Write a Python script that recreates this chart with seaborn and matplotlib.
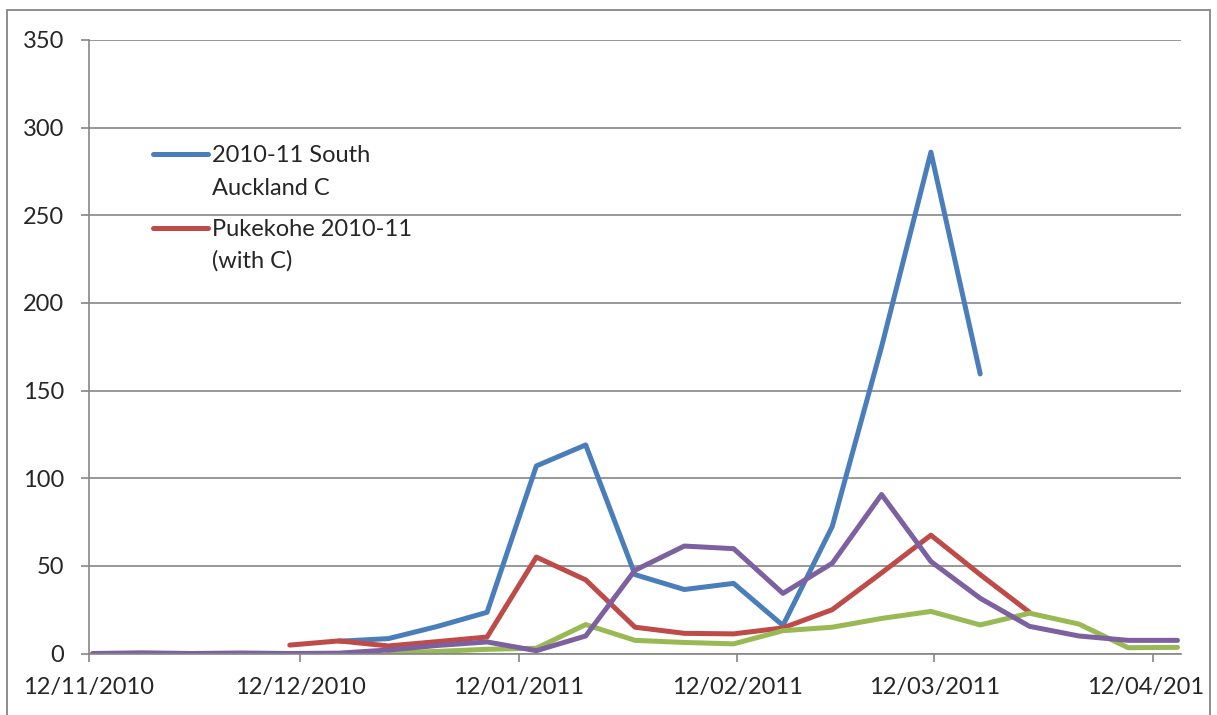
import pandas as pd
import seaborn as sns
import matplotlib.pyplot as plt
from matplotlib.patches import Rectangle
from matplotlib.transforms import Bbox, TransformedBbox
import matplotlib.dates as mdates

# weekly dates (data points)
dates = ["2010-11-12", "2010-11-19", "2010-11-26", "2010-12-03", "2010-12-10",
         "2010-12-17", "2010-12-24", "2010-12-31", "2011-01-07", "2011-01-14",
         "2011-01-21", "2011-01-28", "2011-02-04", "2011-02-11", "2011-02-18",
         "2011-02-25", "2011-03-04", "2011-03-11", "2011-03-18", "2011-03-25",
         "2011-04-01", "2011-04-08", "2011-04-15"]

# series values (None = no data that week)
south_auckland = [None, None, None, None, None,
                  7, 8.5, 15.5, 23.5, 107,
                  119, 45, 36.5, 40, 16,
                  72.5, 175, 286, 159.5, None,
                  None, None, None]
pukekohe = [None, None, None, None, 4.8,
            7.2, 4.3, 6.8, 9.4, 55,
            42, 15, 11.5, 11.2, 14.6,
            25, 46, 67.5, 45, 23.5,
            None, None, None]
series_3 = [None, None, None, None, None,
            None, 0.3, 1.2, 2.4, 3,
            16.5, 7.5, 6.3, 5.5, 13,
            15, 20, 24, 16.3, 23,
            16.8, 3.3, 3.5]
series_4 = [0, 0.4, 0, 0.3, 0,
            0.2, 2, 4.6, 6.6, 1.6,
            10, 47.5, 61.3, 59.8, 34.3,
            51.5, 90.7, 52.5, 31.5, 15.5,
            10, 7.5, 7.5]

names = ["2010-11 South\nAuckland C", "Pukekohe 2010-11\n(with C)", "Series 3", "Series 4"]
colors = ["#4A7EBB", "#BE4B48", "#98B954", "#7D60A0"]
tick_dates = ["2010-11-12", "2010-12-12", "2011-01-12", "2011-02-12", "2011-03-12", "2011-04-12"]

rows = []
for name, vals in zip(names, [south_auckland, pukekohe, series_3, series_4]):
    for d, v in zip(dates, vals):
        if v is not None:
            rows.append([pd.Timestamp(d), name, v])
df = pd.DataFrame(rows, columns=["date", "series", "value"])
# Excel date axis centres each point in its day slot
df["x"] = df["date"] + pd.Timedelta(hours=12)

sns.set_style("white")
plt.rcParams["font.family"] = ["Lato", "DejaVu Sans"]

grey = "#868686"
fs = 17
fig = plt.figure(figsize=(12.17, 7.15), dpi=100)
ax = fig.add_axes([89 / 1217, 1 - 653.5 / 715, (1181 - 89) / 1217, (653.5 - 40) / 715])

sns.lineplot(data=df, x="x", y="value", hue="series", hue_order=names,
             palette=colors, lw=3.6, legend=False, estimator=None, sort=False,
             solid_capstyle="round", solid_joinstyle="round", ax=ax)

ax.set_ylim(0, 350)
ax.set_yticks(range(0, 351, 50))
ax.set_xlim(pd.Timestamp("2010-11-12"), pd.Timestamp("2011-04-16"))
ax.set_xticks([pd.Timestamp(t) for t in tick_dates])
ax.xaxis.set_major_formatter(mdates.DateFormatter("%d/%m/%Y"))
ax.set_xlabel("")
ax.set_ylabel("")

ax.grid(axis="y", color=grey, lw=1.2)
ax.set_axisbelow(True)
for s in ["top", "right"]:
    ax.spines[s].set_visible(False)
for s in ["left", "bottom"]:
    ax.spines[s].set_color(grey)
    ax.spines[s].set_linewidth(1.2)
ax.tick_params(axis="y", direction="out", length=6, width=1.2, color=grey,
               labelsize=fs, pad=12, left=True)
ax.tick_params(axis="x", direction="out", length=6, width=1.2, color=grey,
               labelsize=fs, pad=11, bottom=True)

# legend (only the first two series are shown), each label on two lines
legend_rows = [(0.8142, [0.8007, 0.7469]), (0.6936, [0.6805, 0.6284])]
for i, (yl, ys) in enumerate(legend_rows):
    ax.plot([0.0586, 0.1089], [yl, yl], transform=ax.transAxes, color=colors[i],
            lw=3.6, solid_capstyle="round", clip_on=False)
    for line, yt in zip(names[i].split("\n"), ys):
        ax.text(0.1125, yt, line, transform=ax.transAxes, fontsize=fs,
                va="baseline", ha="left")

# chart frame
fig.add_artist(Rectangle((7 / 1217, -0.05), (1210 - 7) / 1217, 1.05 - 10 / 715,
                         transform=fig.transFigure, fill=False, ec=grey, lw=1.3))

fig.canvas.draw()
clip = TransformedBbox(Bbox([[0, 0], [1205 / 1217, 1]]), fig.transFigure)
for lab in ax.get_xticklabels():
    lab.set_clip_box(clip)
    lab.set_clip_on(True)

fig.savefig("out.png", dpi=100)
